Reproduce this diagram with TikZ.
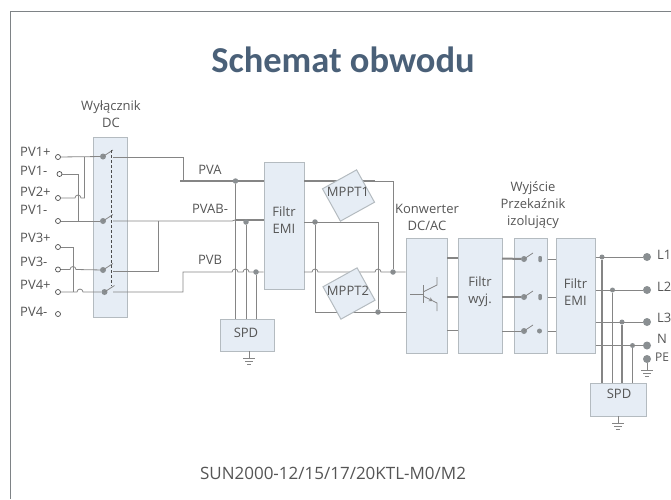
\documentclass[tikz,border=0pt]{standalone}
\usepackage{fontspec}
\setmainfont{Open Sans}
\newfontfamily\titlefont{Carlito}
\definecolor{boxfill}{HTML}{E6EDF5}
\definecolor{boxline}{HTML}{B4BBC0}
\definecolor{wireline}{HTML}{858585}
\definecolor{dotfill}{HTML}{8A8F92}
\definecolor{textgrey}{HTML}{555555}
\definecolor{titleblue}{HTML}{4A6078}
\newcommand{\hop}[1]{-- ++(#1,0) arc[start angle=180,end angle=360,radius=3]}
\begin{document}
\begin{tikzpicture}[
        x=1pt,y=-1pt,
        box/.style={draw=boxline,line width=1pt,fill=boxfill,inner sep=0pt,align=center,text=textgrey,font=\fontsize{13}{17}\selectfont},
        lbl/.style={text=textgrey,inner sep=0pt,align=center,font=\fontsize{13}{17}\selectfont},
        wire/.style={draw=wireline,line width=0.8pt},
        bus/.style={draw=wireline,line width=2pt},
        term/.style={circle,draw=black!70,fill=white,line width=0.7pt,inner sep=0pt,minimum width=5pt},
        pivot/.style={circle,fill=dotfill,inner sep=0pt,minimum width=6pt},
        junction/.style={circle,fill=dotfill,inner sep=0pt,minimum width=5.5pt},
        outlet/.style={circle,fill=dotfill,inner sep=0pt,minimum width=8pt},
        earth/.pic={
            \draw [wire] (0,0) -- (0,7);
            \draw [wire] (-6,7) -- (6,7);
            \draw [wire] (-4,10) -- (4,10);
            \draw [wire] (-2,13) -- (2,13);
        },
        ]
    \useasboundingbox (0,0) rectangle (671,499);
    \draw [boxline!70!black,line width=0.8pt] (10.5,499) -- (10.5,11.5) -- (671,11.5);
    \node (title) [inner sep=0pt,text=titleblue,font=\titlefont\fontsize{36.5}{40}\selectfont\bfseries] at (343,60) {Schemat obwodu};
    \node (model) [lbl,font=\fontsize{17}{20}\selectfont] at (333,473) {SUN2000-12/15/17/20KTL-M0/M2};

    % boxes
    \node (dcbox) [box,minimum width=34pt,minimum height=180pt] at (110,227) {};
    \node (emia) [box,minimum width=40pt,minimum height=127pt] at (284,225.5) {};
    \node (emiatext) [lbl] at (284,220) {Filtr\\EMI};
    \node (spda) [box,minimum width=54pt,minimum height=32pt] at (247,335) {};
    \node (spdatext) [lbl] at (246,333) {SPD};
    \node (conv) [box,minimum width=41pt,minimum height=115pt] at (426.5,295.5) {};
    \node (filtw) [box,minimum width=44pt,minimum height=115pt] at (480,295.5) {};
    \node (filtwtext) [lbl] at (480,292) {Filtr\\wyj.};
    \node (relay) [box,minimum width=33pt,minimum height=115pt] at (530.5,295.5) {};
    \node (emib) [box,minimum width=39pt,minimum height=115pt] at (575.5,295.5) {};
    \node (emibtext) [lbl] at (575.5,292) {Filtr\\EMI};
    \node (spdb) [box,minimum width=56pt,minimum height=33pt] at (618,399.5) {};
    \node (spdbtext) [lbl] at (619,394) {SPD};

    % labels
    \node (dclabel) [lbl] at (111,114.5) {Wyłącznik\\DC};
    \node (convlabel) [lbl] at (427,217) {Konwerter\\DC/AC};
    \node (relaylabel) [lbl] at (533,205.5) {Wyjście\\Przekaźnik\\izolujący};
    \node (pvalabel) [lbl] at (210,170) {PVA};
    \node (pvablabel) [lbl] at (210,209) {PVAB-};
    \node (pvblabel) [lbl] at (210,260) {PVB};
    \foreach \name/\txt/\ypos in {a/PV1+/152,b/PV1-/171,c/PV2+/192,d/PV1-/210,e/PV3+/238,f/PV3-/262,g/PV4+/285,h/PV4-/312}
        \node (lab\name) [lbl,anchor=west] at (20,\ypos) {\txt};

    % terminals on the left
    \foreach \name/\ypos in {a/157,c/198,d/221,e/247,f/269.5,g/292,h/314}
        \node (pv\name) [term] at (58,\ypos) {};
    \node (pvb) [term] at (59.5,174) {};

    % DC switch
    \foreach \name/\xpos/\ypos in {a/103/156.5,b/103/221,c/103/270,d/104.5/292}
        \node (sw\name) [pivot] at (\xpos,\ypos) {};
    \foreach \name/\xpos/\ypos in {a/113/157,b/113/221,c/113/271,d/113/292}
        \coordinate (out\name) at (\xpos,\ypos);
    \foreach \name in {a,b,c,d}
        \draw [wire] (sw\name.center) -- ++(10,-6.5);
    \draw [wire,densely dashed,black!70] (111.5,150) -- (111.5,286);

    % wires into the switch
    \draw [wire] (pva) -- (swa);
    \draw [wire] (pvd) -- (swb);
    \draw [wire] (pvb) -| (78.5,221);
    \draw [wire] (84.5,157) |- (81,198) arc[start angle=360,end angle=180,radius=3] -- (pvc);
    \draw [wire] (pve) -| (73,292);
    \draw [wire] (pvf) \hop{12} -- (swc);
    \draw [wire] (pvg) \hop{19} -- (swd);

    % wires out of the switch
    \draw [wire] (outa) -| (183,180);
    \draw [wire] (outb) -- (232,221) -- (235,220);
    \draw [wire] (outc) -| (158,221);
    \coordinate (pvbin) at (264,272);
    \draw [wire] (outd) -| (183,272) \hop{49} \hop{5} -- (emia.west |- pvbin);
    \coordinate (pvain) at (180,180.5);
    \draw [bus] (pvain) -- (emia.west |- pvain);
    \coordinate (pvabin) at (235,220);
    \draw [bus] (pvabin) -- (emia.west |- pvabin);

    % SPD on the DC side
    \node (juna) [junction] at (235.5,181) {};
    \node (junb) [junction] at (246,222) {};
    \node (junc) [junction] at (256,272) {};
    \draw [wire] (juna) -- (juna |- spda.north);
    \draw [wire] (junb) -- (junb |- spda.north);
    \draw [wire] (junc) -- (junc |- spda.north);
    \pic at (249,351) {earth};

    % from the first filter to the converter
    \node (jund) [junction] at (315,222) {};
    \node (june) [junction] at (378,312) {};
    \node (junf) [junction] at (393,272) {};
    \draw [bus] (304,181) -- (375,181);
    \draw [wire] (375,181) -| (junf);
    \draw [wire] (304,222) -| (june);
    \draw [wire] (jund) |- (conv.west |- june);
    \draw [wire] (304,272) \hop{8} \hop{57} -- (conv.west |- junf);
    \node (mppta) [box,rotate=29,minimum width=39pt,minimum height=37pt] at (348.5,195.5) {};
    \node (mpptb) [box,rotate=29,minimum width=39pt,minimum height=37pt] at (349,293.5) {};
    \node (mpptatext) [lbl] at (348,192) {MPPT1};
    \node (mpptbtext) [lbl] at (348,291) {MPPT2};

    % transistor
    \coordinate (qbase) at (410,294);
    \draw [wire] (qbase) -- (423,294);
    \draw [wire,line width=1pt] (423,285) -- (423,303);
    \draw [wire] (423,292) -- (437,285) -- (437,277);
    \draw [wire,-stealth] (423,296) -- (433,301);
    \draw [wire] (433,301) -- (437,303) -- (437,311);

    % output chain
    \foreach \name/\ypos in {a/259,b/297,c/331}
        \node (rel\name) [pivot] at (524,\ypos) {};
    \draw [bus] (447,258) -- (458,258);
    \draw [bus] (447,297) -- (458,297);
    \draw [wire] (447,330) -- (458,330);
    \draw [bus] (502,258.5) -- (rela);
    \draw [bus] (502,297) -- (relb);
    \draw [wire] (502,331) -- (relc);
    \foreach \name in {a,b,c} {
        \draw [wire] (rel\name.center) -- ++(9,-6);
    }
    \node (cona) [pivot,rounded corners=1pt,rectangle,minimum width=3.5pt,minimum height=6pt] at (540,259) {};
    \node (conb) [pivot,rounded corners=1pt,rectangle,minimum width=3.5pt,minimum height=6pt] at (540,297) {};
    \node (conc) [pivot,minimum width=5pt] at (539.5,331) {};
    \draw [wire] (cona -| relay.east) -- (cona -| emib.west);
    \draw [wire] (conb -| relay.east) -- (conb -| emib.west);
    \draw [wire] (conc -| relay.east) -- (conc -| emib.west);

    % grid side
    \foreach \name/\txt/\ypos/\lypos/\xpos in {a/L1/257/255/602,b/L2/290/287/612.5,c/L3/322/318/622,d/N/345.5/339/632.5} {
        \node (grid\name) [outlet] at (647,\ypos) {};
        \node (dot\name) [junction,minimum width=5pt] at (\xpos,\ypos) {};
        \node (txt\name) [lbl,anchor=west] at (657,\lypos) {\txt};
        \draw [wire] (emib.east |- grid\name) -- (grid\name);
        \draw [wire,line width=1.1pt] (dot\name) -- (dot\name |- spdb.north);
    }
    \node (gridpe) [outlet] at (647,359) {};
    \node (txtpe) [lbl,anchor=west,font=\fontsize{12}{14}\selectfont] at (655,357) {PE};
    \pic at (647,363) {earth};
    \pic at (618,416) {earth};
\end{tikzpicture}
\end{document}
